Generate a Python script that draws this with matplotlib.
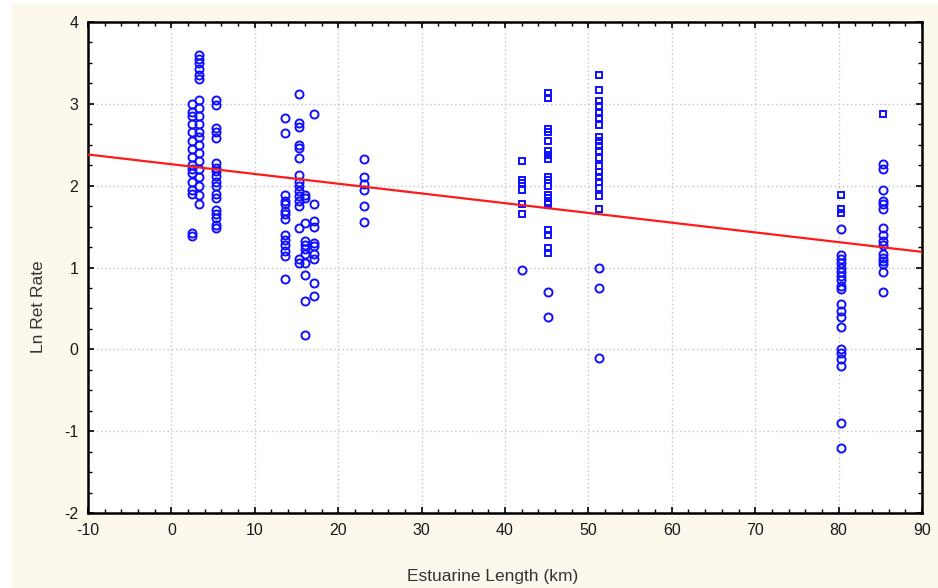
import numpy as np
import matplotlib
matplotlib.use("Agg")
import matplotlib.pyplot as plt
from matplotlib.patches import Rectangle
from matplotlib.ticker import MultipleLocator

plt.rcParams["axes.unicode_minus"] = False

# ---- data ----
x_a = 2.5
y_a = [3.0, 2.9, 2.85, 2.75, 2.65, 2.55, 2.45, 2.35, 2.25, 2.2, 2.15, 2.05, 1.95, 1.9, 1.42, 1.38]
x_b = 3.3
y_b = [3.6, 3.55, 3.5, 3.42, 3.35, 3.3, 3.05, 2.95, 2.85, 2.75, 2.65, 2.6, 2.5, 2.4, 2.3, 2.2, 2.1, 2.0, 1.88, 1.78]
x_c = 5.3
y_c = [3.05, 2.98, 2.7, 2.65, 2.58, 2.28, 2.22, 2.18, 2.12, 2.05, 2.0, 1.9, 1.85, 1.7, 1.65, 1.6, 1.52, 1.48]
x_d = 13.6
y_d = [2.83, 2.64, 1.89, 1.81, 1.77, 1.69, 1.65, 1.59, 1.40, 1.34, 1.28, 1.20, 1.14, 0.86]
x_e = 15.3
y_e = [3.12, 2.77, 2.72, 2.50, 2.46, 2.34, 2.13, 2.05, 1.99, 1.93, 1.87, 1.81, 1.75, 1.48, 1.10, 1.06]
x_f = 16.0
y_f = [1.89, 1.85, 1.54, 1.32, 1.28, 1.22, 1.16, 1.06, 0.91, 0.59, 0.18]
x_g = 17.1
y_g = [2.87, 1.77, 1.57, 1.50, 1.30, 1.26, 1.16, 1.10, 0.81, 0.65]
x_h = 23.1
y_h = [2.33, 2.10, 2.02, 1.95, 1.75, 1.55]
x_i = 42.0
y_i = [2.30, 2.07, 2.03, 1.95, 1.77, 1.65, 0.97]
x_j = 45.1
y_j = [3.13, 3.07, 2.69, 2.65, 2.54, 2.42, 2.38, 2.32, 2.11, 2.07, 1.99, 1.89, 1.85,
       1.80, 1.77, 1.46, 1.40, 1.24, 1.18, 0.70, 0.40]
x_k = 51.3
y_k = [3.35, 3.17, 3.03, 2.97, 2.89, 2.83, 2.74, 2.60, 2.54, 2.48, 2.42, 2.34, 2.24,
       2.17, 2.11, 2.05, 1.97, 1.87, 1.71, 1.0, 0.75, -0.10]
x_l = 80.3
y_l = [1.88, 1.72, 1.67, 1.47, 1.15, 1.10, 1.05, 1.0, 0.95, 0.90, 0.85, 0.78, 0.74,
       0.55, 0.47, 0.40, 0.27, 0.0, -0.05, -0.12, -0.20, -0.90, -1.20]
x_m = 85.3
y_m = [2.87, 2.26, 2.20, 1.95, 1.81, 1.77, 1.71, 1.48, 1.40, 1.32, 1.28, 1.16, 1.12,
       1.08, 1.04, 0.94, 0.70]

fit_intercept = 2.262
fit_slope = -0.0119
fit_x = [-10, 90]

x_ticks = [-10, 0, 10, 20, 30, 40, 50, 60, 70, 80, 90]
y_ticks = [-2, -1, 0, 1, 2, 3, 4]

# groups: (x, ys, square-threshold) values above threshold drawn as squares
groups = [
    (x_a, y_a, None), (x_b, y_b, None), (x_c, y_c, None),
    (x_d, y_d, None), (x_e, y_e, None), (x_f, y_f, None), (x_g, y_g, None),
    (x_h, y_h, None), (x_i, y_i, 1.5), (x_j, y_j, 1.1), (x_k, y_k, 1.5),
    (x_l, y_l, 1.6), (x_m, y_m, 2.5),
]

fig = plt.figure(figsize=(9.38, 5.88), dpi=100, facecolor="white")
fig.patches.append(Rectangle((12 / 938, 0), 1, 584 / 588, transform=fig.transFigure,
                             facecolor="#fdf8ec", edgecolor="none", zorder=-10))

ax = fig.add_axes([88 / 938, 75 / 588, 834 / 938, 491 / 588])
ax.set_facecolor("white")

blue = "#1010ff"
for gx, gy, thr in groups:
    gy = np.asarray(gy, dtype=float)
    gxv = np.full_like(gy, gx)
    if thr is None:
        circ = np.ones_like(gy, dtype=bool)
    else:
        circ = gy <= thr
    ax.plot(gxv[circ], gy[circ], linestyle="none", marker="o", ms=5.8,
            mfc="none", mec=blue, mew=1.4, zorder=3)
    ax.plot(gxv[~circ], gy[~circ], linestyle="none", marker="s", ms=5.0,
            mfc="none", mec=blue, mew=1.4, zorder=3)

fx = np.array(fit_x, dtype=float)
ax.plot(fx, fit_intercept + fit_slope * fx, color="#ff1a1a", lw=1.6, zorder=4)

ax.set_xlim(-10, 90)
ax.set_ylim(-2, 4)
ax.set_xticks(x_ticks)
ax.set_yticks(y_ticks)
ax.xaxis.set_minor_locator(MultipleLocator(2))
ax.yaxis.set_minor_locator(MultipleLocator(0.25))
ax.tick_params(which="both", direction="in", top=True, right=True, color="black")
ax.tick_params(which="major", length=4, width=1.2, labelsize=11.5, labelcolor="#1a1a1a", pad=7)
ax.tick_params(which="minor", length=3, width=1.0)
for lab in ax.get_xticklabels() + ax.get_yticklabels():
    lab.set_fontfamily("Liberation Sans")

ax.grid(True, which="major", linestyle=(0, (1, 2)), color="#c4c4c4", lw=1.0, zorder=0)
for s in ax.spines.values():
    s.set_linewidth(1.8)
    s.set_color("black")

ax.set_xlabel("Estuarine Length (km)", fontsize=12.5, family="Liberation Sans",
              color="#333333")
ax.set_ylabel("Ln Ret Rate", fontsize=12.5, family="Liberation Sans",
              color="#333333")
ax.xaxis.set_label_coords(0.485, -0.115)
ax.yaxis.set_label_coords(-0.05, 0.42)

fig.savefig("out.png", dpi=100, facecolor=fig.get_facecolor())
